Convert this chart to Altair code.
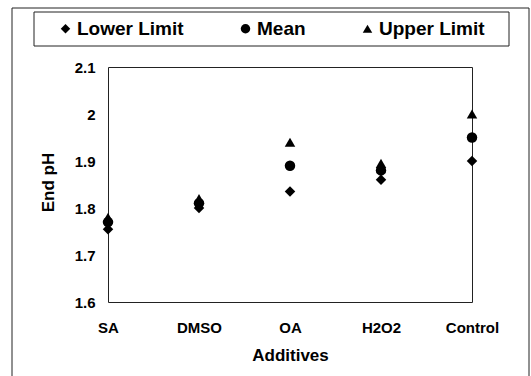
import altair as alt
import pandas as pd

# End pH of the leach liquor for each additive
additives = ["SA", "DMSO", "OA", "H2O2", "Control"]
lower_limit = [1.755, 1.80, 1.835, 1.86, 1.90]
mean_ph = [1.77, 1.81, 1.89, 1.88, 1.95]
upper_limit = [1.78, 1.82, 1.94, 1.895, 2.00]

series_names = ["Lower Limit", "Mean", "Upper Limit"]
series_shapes = ["diamond", "circle", "triangle-up"]
y_ticks = [1.6, 1.7, 1.8, 1.9, 2.0, 2.1]

rows = []
for name, values in zip(series_names, [lower_limit, mean_ph, upper_limit]):
    for add, v in zip(additives, values):
        rows.append({"Additive": add, "Series": name, "pH": v})
df = pd.DataFrame(rows)

FONT = "Liberation Sans"

points = alt.Chart(df).mark_point(filled=True, color="black", opacity=1, size=110).encode(
    x=alt.X(
        "Additive:N",
        sort=additives,
        scale=alt.Scale(type="point", padding=0),
        axis=alt.Axis(
            title="Additives",
            labelAngle=0,
            ticks=False,
            domain=False,
            labelPadding=18,
            labelFont=FONT,
            labelFontSize=15,
            labelFontWeight="bold",
            labelColor="black",
            titleFont=FONT,
            titleFontSize=17,
            titleFontWeight="bold",
            titleColor="black",
            titleX=182,
            titleY=53,
            titleBaseline="middle",
            titleAlign="center",
        ),
    ),
    y=alt.Y(
        "pH:Q",
        scale=alt.Scale(domain=[1.6, 2.1], nice=False, zero=False),
        axis=alt.Axis(
            title="End pH",
            values=y_ticks,
            format="~g",
            grid=False,
            ticks=False,
            domain=False,
            labelPadding=13,
            labelFont=FONT,
            labelFontSize=15,
            labelFontWeight="bold",
            labelColor="black",
            titleFont=FONT,
            titleFontSize=17,
            titleFontWeight="bold",
            titleColor="black",
            titleAngle=-90,
            titleX=-60,
            titleY=115,
            titleBaseline="middle",
            titleAlign="center",
        ),
    ),
    shape=alt.Shape(
        "Series:N",
        scale=alt.Scale(domain=series_names, range=series_shapes),
        legend=alt.Legend(
            title=None,
            orient="none",
            direction="horizontal",
            legendX=-52,
            legendY=-48,
            padding=0,
            symbolSize=90,
            symbolFillColor="black",
            symbolStrokeColor="black",
            symbolType="circle",
            labelFont=FONT,
            labelFontSize=19,
            labelFontWeight="bold",
            labelColor="black",
            labelOffset=2,
            columnPadding=52,
        ),
    ),
)

one = alt.Data(values=[{}])

# box around the legend
legend_box = alt.Chart(one).mark_rect(fill=None, stroke="#222", strokeWidth=1).encode(
    x=alt.value(-74), x2=alt.value(401), y=alt.value(-55), y2=alt.value(-21)
)

# outer frame of the figure
outer_frame = alt.Chart(one).mark_rect(fill=None, stroke="#222", strokeWidth=1).encode(
    x=alt.value(-96), x2=alt.value(421), y=alt.value(-59), y2=alt.value(330)
)

chart = (
    alt.layer(outer_frame, legend_box, points)
    .properties(
        width=364,
        height=235,
        autosize=alt.AutoSizeParams(type="none"),
        padding={"left": 108, "top": 67, "right": 59, "bottom": 74},
        background="white",
    )
    .configure_view(stroke="#222", strokeWidth=1)
)

chart.save("out.html", embed_options={"renderer": "svg", "actions": False})
